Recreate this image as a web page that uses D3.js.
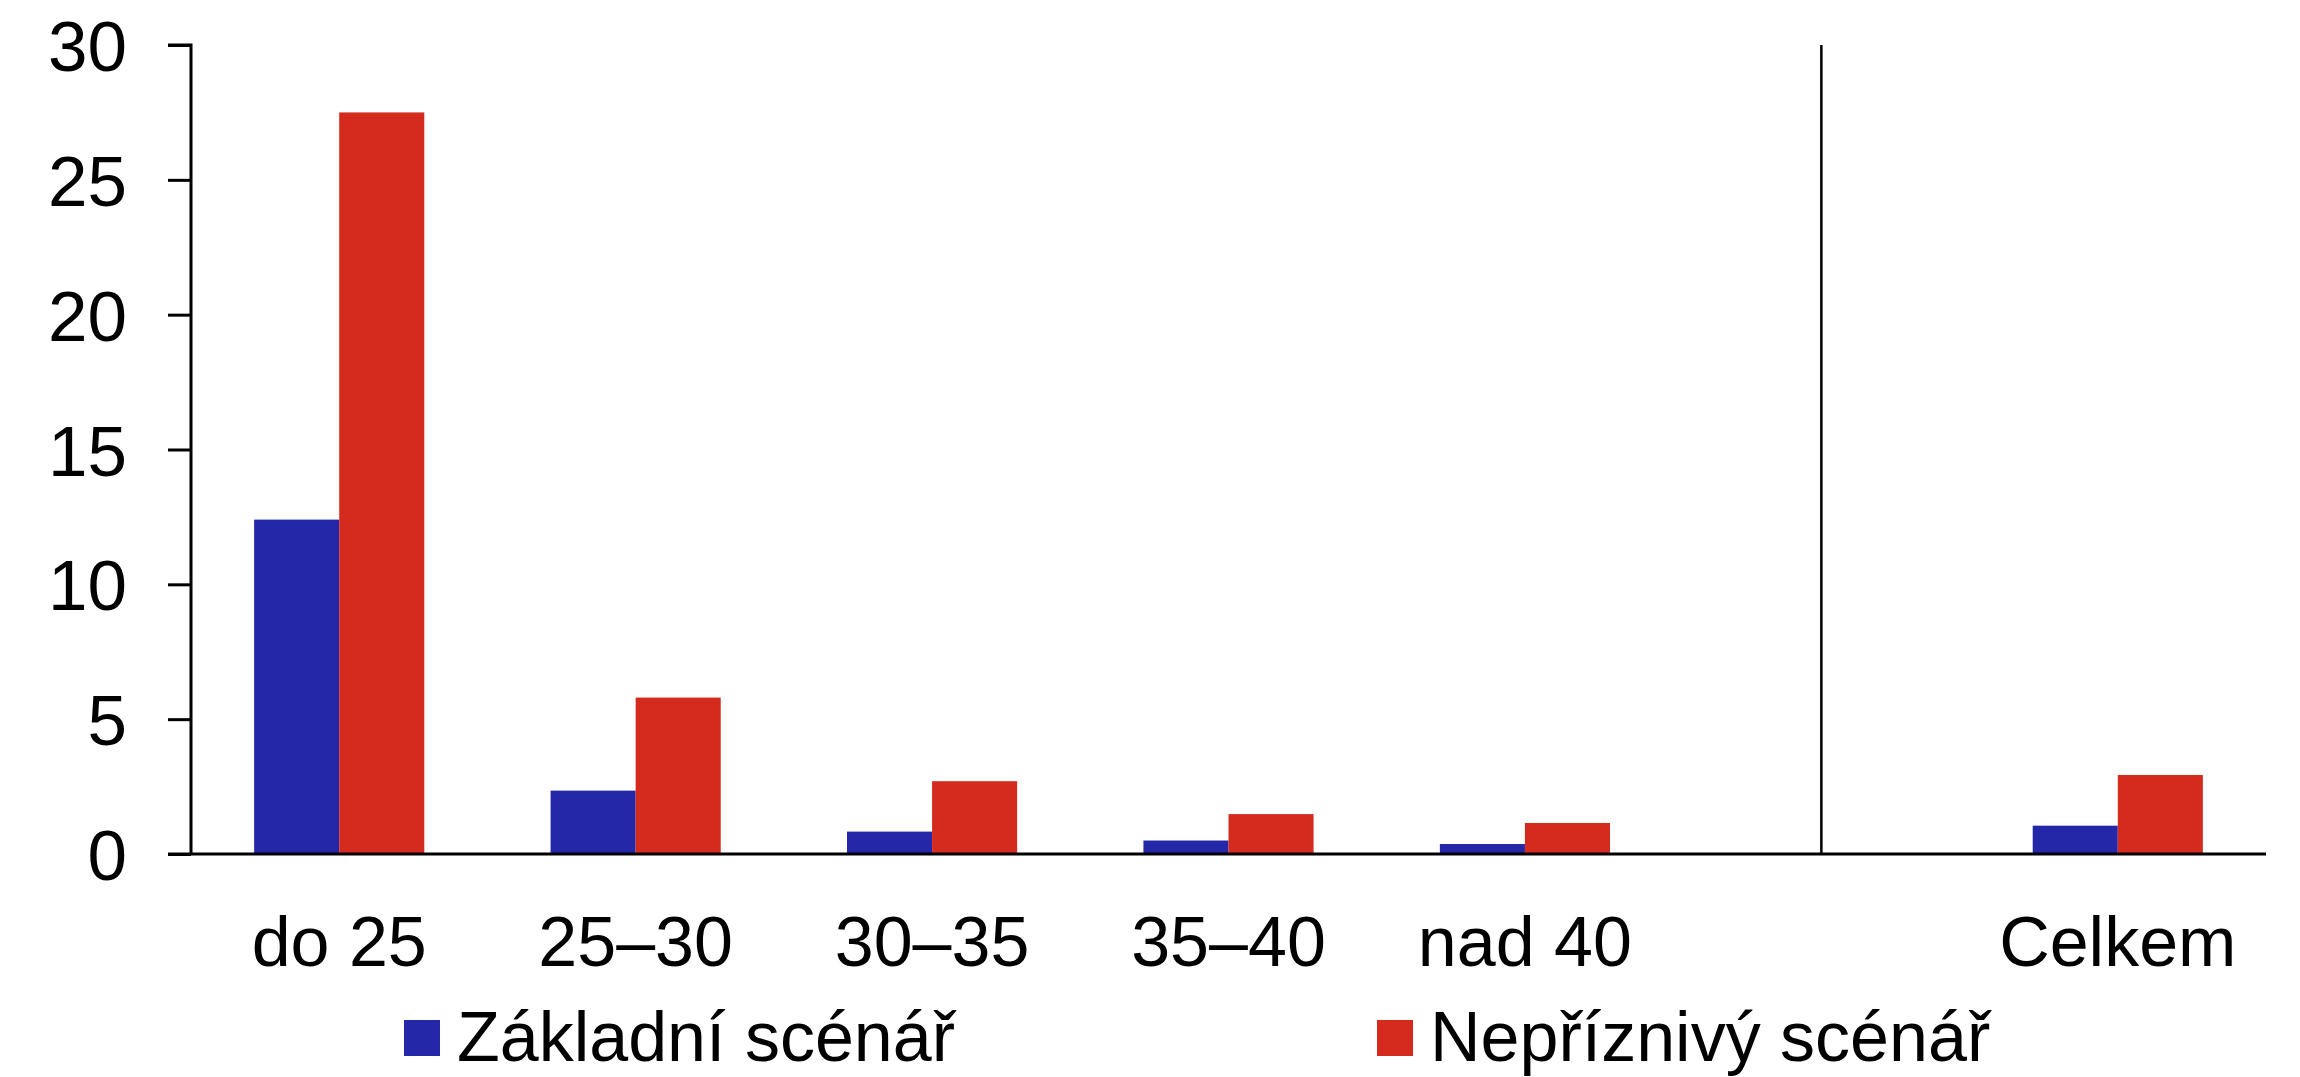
<!DOCTYPE html>
<html>
<head>
<meta charset="utf-8">
<script src="https://cdnjs.cloudflare.com/ajax/libs/d3/7.8.5/d3.min.js"></script>
<style>
    body { margin: 0; background: #fff; }
    svg text { font-family: "Liberation Sans", Arial, sans-serif; fill: #000; }
</style>
</head>
<body>
<svg id="chart" width="2300" height="1077"></svg>
<script>
// age buckets; the empty one is the gap before the total
var categories = ["do 25", "25–30", "30–35", "35–40", "nad 40", "", "Celkem"];
var seriesNames = ["Základní scénář", "Nepříznivý scénář"];
var baseline = [12.4, 2.35, 0.83, 0.5, 0.37, null, 1.05];
var adverse = [27.5, 5.8, 2.7, 1.48, 1.15, null, 2.93];
var yTicks = [0, 5, 10, 15, 20, 25, 30];
var colors = ["#2427a8", "#d52b1e"];

var svg = d3.select("#chart");
var margin = {top: 45, right: 34, bottom: 223, left: 191},
    width = 2300 - margin.left - margin.right,
    height = 1077 - margin.top - margin.bottom;

var g = svg.append("g")
    .attr("transform", "translate(" + margin.left + "," + margin.top + ")");

var x = d3.scaleBand()
    .domain(categories)
    .range([0, width])
    .paddingInner(0.426)
    .paddingOuter(0.213);

var xSub = d3.scaleBand()
    .domain([0, 1])
    .range([0, x.bandwidth()]);

var y = d3.scaleLinear()
    .domain([0, 30])
    .range([height, 0]);

var rows = [];
categories.forEach(function(c, i) {
    if (baseline[i] != null) rows.push({cat: c, s: 0, v: baseline[i]});
    if (adverse[i] != null) rows.push({cat: c, s: 1, v: adverse[i]});
});

// bars
g.append("g").selectAll("rect")
    .data(rows)
    .enter().append("rect")
    .attr("x", function(d) { return x(d.cat) + xSub(d.s); })
    .attr("width", xSub.bandwidth())
    .attr("y", function(d) { return y(d.v); })
    .attr("height", function(d) { return y(0) - y(d.v); })
    .attr("fill", function(d) { return colors[d.s]; });

// y axis
var yAxis = g.append("g")
    .call(d3.axisLeft(y).tickValues(yTicks).tickSize(23).tickPadding(41).tickFormat(d3.format("d")));
yAxis.select(".domain").attr("stroke", "#000").attr("stroke-width", 3)
    .attr("d", "M-23," + y(30) + "H0V" + y(0));
yAxis.selectAll(".tick line").attr("stroke", "#000").attr("stroke-width", 3);
yAxis.selectAll(".tick text")
    .style("font-size", "71px")
    .attr("dy", "0.36em");

// x baseline
g.append("line")
    .attr("x1", -23).attr("x2", width)
    .attr("y1", y(0)).attr("y2", y(0))
    .attr("stroke", "#000").attr("stroke-width", 3);

// separator before the total
var sepX = x("") + x.bandwidth() / 2;
g.append("line")
    .attr("x1", sepX).attr("x2", sepX)
    .attr("y1", y(30)).attr("y2", y(0))
    .attr("stroke", "#000").attr("stroke-width", 2.5);

// category labels
g.append("g").selectAll("text")
    .data(categories)
    .enter().append("text")
    .attr("x", function(d) { return x(d) + x.bandwidth() / 2; })
    .attr("y", y(0) + 112)
    .attr("text-anchor", "middle")
    .style("font-size", "70px")
    .text(function(d) { return d; });

// legend
var legendX = [404, 1377];
var legend = svg.append("g").selectAll("g")
    .data(seriesNames)
    .enter().append("g")
    .attr("transform", function(d, i) { return "translate(" + legendX[i] + ",1020)"; });

legend.append("rect")
    .attr("width", 36).attr("height", 36)
    .attr("fill", function(d, i) { return colors[i]; });

legend.append("text")
    .attr("x", 53)
    .attr("y", 41)
    .style("font-size", "70px")
    .text(function(d) { return d; });
</script>
</body>
</html>
